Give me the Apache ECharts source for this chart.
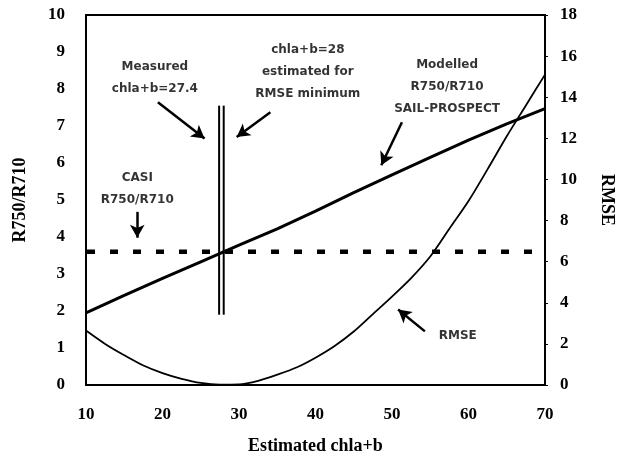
<!DOCTYPE html>
<html>
<head>
<meta charset="utf-8">
<style>
  html, body { margin: 0; padding: 0; background: #fff; }
  #chart { width: 626px; height: 468px; }
</style>
<script src="https://cdn.jsdelivr.net/npm/echarts@6/dist/echarts.min.js"></script>
</head>
<body>
<div id="chart"></div>
<script>
// Estimated chlorophyll a+b on the x axis
var chlaX = [10, 15, 20, 25, 30, 35, 40, 45, 50, 55, 60, 65, 70];
// Modelled R750/R710 from SAIL-PROSPECT (left axis)
var modelledRatio = [1.95, 2.42, 2.88, 3.33, 3.78, 4.22, 4.70, 5.20, 5.68, 6.15, 6.62, 7.06, 7.47];

// RMSE between CASI and modelled index (right axis)
var rmseX = [10, 12.5, 15, 17.5, 20, 22.5, 25, 27.5, 30, 32.5, 35, 37.5, 40, 42.5, 45, 47.5, 50, 52.5, 55, 57.5, 60, 62.5, 65, 67.5, 70];
var rmseValues = [2.65, 2.0, 1.45, 0.95, 0.58, 0.3, 0.1, 0.02, 0.03, 0.2, 0.5, 0.85, 1.33, 1.9, 2.6, 3.45, 4.3, 5.2, 6.25, 7.6, 8.95, 10.5, 12.1, 13.6, 15.1];

// CASI measured R750/R710 level
var casiRatio = 3.6;
// Measured and RMSE-minimum chla+b, with the vertical extent of their markers
var measuredChla = 27.4;
var estimatedChla = 28;
var markerSpan = [1.9, 7.55];

// Axis tick values
var xTicks = [10, 20, 30, 40, 50, 60, 70];
var leftTicks = [0, 1, 2, 3, 4, 5, 6, 7, 8, 9, 10];
var rightTicks = [0, 2, 4, 6, 8, 10, 12, 14, 16, 18];

// Annotation texts and their anchors (data units of the left axis)
var noteTexts = [
  'Measured\nchla+b=27.4',
  'chla+b=28\nestimated for\nRMSE minimum',
  'Modelled\nR750/R710\nSAIL-PROSPECT',
  'CASI\nR750/R710',
  'RMSE'
];
var noteAnchors = [[19.0, 8.29], [39.0, 8.46], [57.2, 8.07], [16.7, 5.29], [58.6, 1.32]];

// Pointer arrows: [from, to] in data units of the left axis
var arrowPaths = [
  [[19.4, 7.64], [25.5, 6.66]],
  [[34.1, 7.37], [29.7, 6.70]],
  [[51.3, 7.10], [48.6, 5.94]],
  [[16.7, 4.68], [16.7, 3.98]],
  [[54.3, 1.45], [50.8, 2.04]]
];

var serif = '"Liberation Serif", "DejaVu Serif", serif';
var noteFont = '"DejaVu Sans", sans-serif';

function zip(xs, ys) { return xs.map(function (x, i) { return [x, ys[i]]; }); }

var chart = echarts.init(document.getElementById('chart'), null, { renderer: 'canvas' });

chart.setOption({
  animation: false,
  backgroundColor: '#fff',
  grid: {
    left: 86, right: 81, top: 15, bottom: 83,
    show: true, borderColor: '#000', borderWidth: 2, backgroundColor: 'transparent'
  },
  xAxis: {
    type: 'value', min: xTicks[0], max: xTicks[xTicks.length - 1], interval: 10,
    name: 'Estimated chla+b', nameLocation: 'middle', nameGap: 52,
    nameTextStyle: { fontFamily: serif, fontWeight: 'bold', fontSize: 18, color: '#000' },
    axisLine: { show: true, lineStyle: { color: '#000', width: 2 } },
    axisTick: { show: false },
    splitLine: { show: false },
    axisLabel: { margin: 21, fontFamily: serif, fontWeight: 'bold', fontSize: 17, color: '#000' }
  },
  yAxis: [
    {
      type: 'value', min: leftTicks[0], max: leftTicks[leftTicks.length - 1], interval: 1,
      name: 'R750/R710', nameLocation: 'middle', nameGap: 57,
      nameTextStyle: { fontFamily: serif, fontWeight: 'bold', fontSize: 18, color: '#000' },
      axisLine: { show: true, lineStyle: { color: '#000', width: 2 } },
      axisTick: { show: false },
      splitLine: { show: false },
      axisLabel: { margin: 21, fontFamily: serif, fontWeight: 'bold', fontSize: 17, color: '#000' }
    },
    {
      type: 'value', position: 'right', min: rightTicks[0], max: rightTicks[rightTicks.length - 1], interval: 2,
      name: 'RMSE', nameLocation: 'middle', nameGap: 53, nameRotate: -90,
      nameTextStyle: { fontFamily: serif, fontWeight: 'bold', fontSize: 18, color: '#000' },
      axisLine: { show: true, lineStyle: { color: '#000', width: 2 } },
      axisTick: { show: true, inside: false, length: 3, lineStyle: { color: '#000', width: 1 } },
      splitLine: { show: false },
      axisLabel: { margin: 15, fontFamily: serif, fontWeight: 'bold', fontSize: 17, color: '#000' }
    }
  ],
  series: [
    {
      name: 'CASI R750/R710', type: 'line', yAxisIndex: 0,
      data: [[xTicks[0], casiRatio], [xTicks[xTicks.length - 1], casiRatio]],
      symbol: 'none', silent: true,
      lineStyle: { color: '#000', width: 4.5, type: [8, 15], dashOffset: -1 }
    },
    {
      name: 'Modelled R750/R710', type: 'line', yAxisIndex: 0,
      data: zip(chlaX, modelledRatio),
      symbol: 'none', silent: true,
      lineStyle: { color: '#000', width: 3 },
      markLine: {
        silent: true, animation: false,
        symbol: ['none', 'arrow'], symbolSize: [11, 13],
        label: { show: false },
        lineStyle: { color: '#000', width: 2.5, type: 'solid' },
        emphasis: { disabled: true },
        data: arrowPaths.map(function (p) { return [{ coord: p[0] }, { coord: p[1] }]; })
      }
    },
    {
      name: 'RMSE', type: 'line', yAxisIndex: 1,
      data: zip(rmseX, rmseValues),
      symbol: 'none', smooth: 0.3, silent: true,
      lineStyle: { color: '#000', width: 1.8 }
    },
    {
      name: 'Measured chla+b', type: 'line', yAxisIndex: 0,
      data: [[measuredChla, markerSpan[0]], [measuredChla, markerSpan[1]]],
      symbol: 'none', silent: true,
      lineStyle: { color: '#000', width: 2 }
    },
    {
      name: 'Estimated chla+b', type: 'line', yAxisIndex: 0,
      data: [[estimatedChla, markerSpan[0]], [estimatedChla, markerSpan[1]]],
      symbol: 'none', silent: true,
      lineStyle: { color: '#000', width: 2 }
    },
    {
      name: 'notes', type: 'scatter', yAxisIndex: 0,
      symbolSize: 0, silent: true,
      data: noteAnchors.map(function (a, i) { return [a[0], a[1], noteTexts[i]]; }),
      label: {
        show: true, position: 'inside', align: 'center', verticalAlign: 'middle',
        formatter: function (p) { return p.data[2]; },
        fontFamily: noteFont, fontWeight: 'bold', fontSize: 12, lineHeight: 22, color: '#000'
      }
    }
  ]
});
</script>
</body>
</html>
